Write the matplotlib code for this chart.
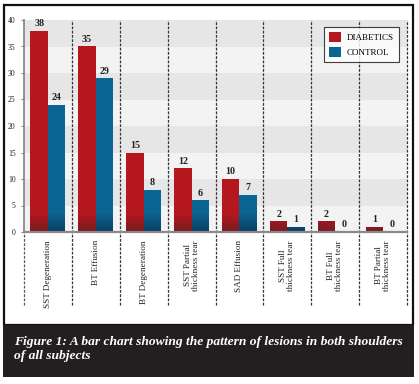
import numpy as np
import matplotlib
matplotlib.use("Agg")
import matplotlib.pyplot as plt
from matplotlib.colors import to_rgb
from matplotlib.patches import Rectangle, Patch

categories = ["SST Degeneration", "BT Effusion", "BT Degeneration",
              "SST Partial\nthickness tear", "SAD Effusion",
              "SST Full\nthickness tear", "BT Full\nthickness tear",
              "BT Partial\nthickness tear"]
diabetics = [38, 35, 15, 12, 10, 2, 2, 1]
control = [24, 29, 8, 6, 7, 1, 0, 0]
yticks = [0, 5, 10, 15, 20, 25, 30, 35, 40]
series_names = ["DIABETICS", "CONTROL"]
caption = "Figure 1: A bar chart showing the pattern of lesions in both shoulders\nof all subjects"

RED = "#b5171f"
RED_D = "#761c21"
BLUE = "#0b6592"
BLUE_D = "#0b3b5e"

W, H = 419, 384
fig = plt.figure(figsize=(W / 100, H / 100), dpi=100)
serif = ["Liberation Serif", "DejaVu Serif"]

def fx(px):
    return px / W

def fy(py):
    return 1 - py / H

# outer frame and caption box
fig.patches.append(Rectangle((fx(3.5), fy(325)), fx(413) - fx(3.5), fy(5) - fy(325),
                             transform=fig.transFigure, fill=False, edgecolor="#111",
                             linewidth=1.6, zorder=0))
fig.patches.append(Rectangle((fx(3), fy(377)), fx(414) - fx(3), fy(325) - fy(377),
                             transform=fig.transFigure, facecolor="#231f20",
                             edgecolor="none", zorder=1))
fig.text(fx(14), fy(336), caption, color="white", family=serif, fontsize=9.7,
         fontweight="bold", fontstyle="italic", va="top", ha="left",
         linespacing=1.25)

left, right, top, bottom = 24, 407, 20, 232
ax = fig.add_axes([fx(left), fy(bottom), fx(right) - fx(left), fy(top) - fy(bottom)])
n = len(categories)
x = np.arange(n)

# background bands
for i, y0 in enumerate(range(0, 40, 5)):
    ax.axhspan(y0, y0 + 5, color="#f3f3f3" if i % 2 == 0 else "#e6e6e6",
               zorder=0, linewidth=0)

bw = 0.365
grad_top = 3.6
nslices = 24
sl = grad_top / nslices

def mix(c1, c2, f):
    a, b = np.array(to_rgb(c1)), np.array(to_rgb(c2))
    return tuple(a * (1 - f) + b * f)

for vals, off, col, dcol in [(diabetics, -bw / 2, RED, RED_D), (control, bw / 2, BLUE, BLUE_D)]:
    vals = np.array(vals, dtype=float)
    ax.bar(x + off, vals, width=bw, color=col, zorder=2, linewidth=0)
    for k in range(nslices):
        b0 = k * sl
        hts = np.clip(vals - b0, 0, sl)
        f = (k + 0.5) / nslices
        ax.bar(x + off, hts, width=bw, bottom=b0, color=mix(dcol, col, f),
               zorder=3, linewidth=0)
    for xi, v in zip(x, vals):
        ax.text(xi + off, v + 0.5, str(int(v)), ha="center", va="bottom", family=serif,
                fontsize=7.2, fontweight="bold", color="#222", zorder=4)
ax.set_xlim(-0.5, n - 0.5)
ax.set_ylim(0, 40)

# dashed separators
trans = ax.get_xaxis_transform()
ext = -(305 - bottom) / (bottom - top)
for s in np.arange(0.5, n, 1.0):
    ax.plot([s, s], [ext, 1], transform=trans, color="#333", linewidth=0.9,
            linestyle=(0, (2.2, 1.2)), clip_on=False, zorder=5)
ax.plot([-0.5, -0.5], [ext, 0], transform=trans, color="#555", linewidth=0.9,
        linestyle=(0, (2.2, 1.2)), clip_on=False, zorder=5)

for sp in ["top", "right"]:
    ax.spines[sp].set_visible(False)
ax.spines["left"].set_color("#8a8a8a")
ax.spines["left"].set_linewidth(1.3)
ax.spines["bottom"].set_color("#8a8a8a")
ax.spines["bottom"].set_linewidth(1.6)
ax.spines["bottom"].set_zorder(6)

ax.set_yticks(yticks)
ax.set_yticklabels([str(t) for t in yticks], family=serif, fontsize=5.5, color="#222")
ax.tick_params(axis="y", length=2, width=0.6, color="#666", pad=4)
ax.set_xticks(x)
ax.set_xticklabels([])
ax.tick_params(axis="x", length=0)
for xi, lab in zip(x, categories):
    ax.text(xi, -(240 - bottom) / (bottom - top), lab, transform=trans, rotation=90,
            ha="center", va="top", family=serif, fontsize=6.6, color="#222",
            linespacing=1.0, multialignment="center")

handles = [Patch(facecolor=RED, edgecolor="none"), Patch(facecolor=BLUE, edgecolor="none")]
leg = ax.legend(handles, series_names, loc="upper right",
                bbox_to_anchor=((399 - left) / (right - left), (bottom - 27) / (bottom - top)),
                borderaxespad=0, frameon=True, fancybox=False, prop={"family": serif, "size": 6.5},
                handlelength=1.3, handleheight=1.3, handletextpad=0.6, labelspacing=0.5,
                borderpad=0.6)
leg.get_frame().set_edgecolor("#111")
leg.get_frame().set_linewidth(0.8)
leg.set_zorder(10)

fig.savefig("out.png", dpi=100)
